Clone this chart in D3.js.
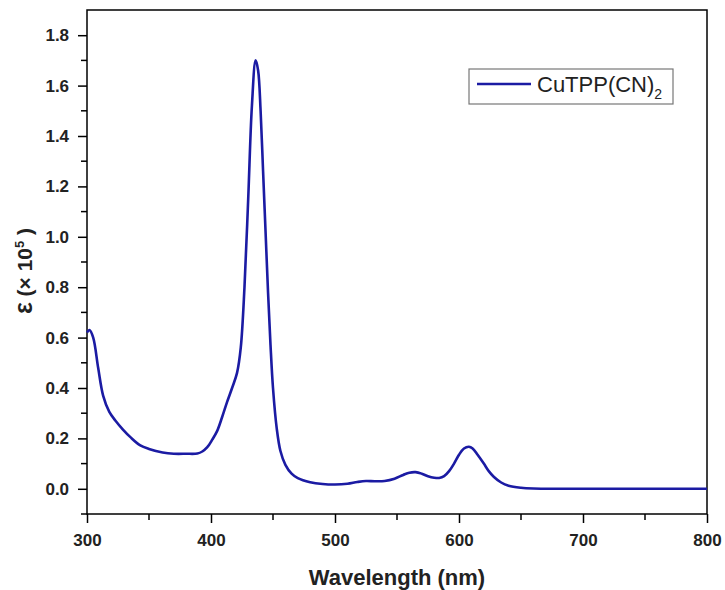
<!DOCTYPE html>
<html><head><meta charset="utf-8">
<script src="https://cdn.jsdelivr.net/npm/d3@7"></script>
<style>body{margin:0;background:#fff}svg{display:block}</style>
</head><body>
<svg id="c" width="725" height="590"></svg>
<script>
const wavelength = [300,302,305,309,313,318,323,329,335,343,350,361,370,380,389,393,397,401,405,409,413,417,421,424,427,430,433,436,438,440,442,444,446,448,450,453,456,460,465,470,480,490,500,510,518,525,532,540,548,555,560,565,570,575,580,584,588,592,596,600,604,608,611,615,620,624,628,634,640,650,660,680,700,750,800];
const epsilon = [0.62,0.63,0.60,0.48,0.37,0.305,0.27,0.235,0.205,0.172,0.158,0.144,0.139,0.139,0.14,0.148,0.165,0.195,0.23,0.285,0.345,0.40,0.46,0.56,0.80,1.15,1.52,1.70,1.66,1.50,1.26,1.02,0.78,0.57,0.40,0.24,0.15,0.095,0.06,0.042,0.026,0.019,0.017,0.02,0.027,0.031,0.03,0.031,0.04,0.055,0.064,0.066,0.06,0.05,0.044,0.043,0.05,0.07,0.10,0.135,0.16,0.167,0.16,0.135,0.10,0.07,0.048,0.025,0.012,0.004,0.001,0.0,0.0,0.0,0.0];
const xTicks = [300,400,500,600,700,800];
const yTicks = [0.0,0.2,0.4,0.6,0.8,1.0,1.2,1.4,1.6,1.8];
const seriesName = "CuTPP(CN)";

const svg = d3.select("#c");
const L=87,R=707,T=10,B=514;
const x = d3.scaleLinear().domain([300,800]).range([L,R]);
const y = d3.scaleLinear().domain([-0.1,1.9]).range([B,T]);
const color = "#1b1ba3";
const font = "'Liberation Sans', Arial, sans-serif";

// frame
svg.append("rect").attr("x",L).attr("y",T).attr("width",R-L).attr("height",B-T)
  .attr("fill","none").attr("stroke","#000").attr("stroke-width",1.5);

// x axis
const xMinor = d3.range(350,800,100);
const gx = svg.append("g").attr("transform",`translate(0,${B})`);
gx.call(d3.axisBottom(x).tickValues(xTicks).tickSize(9).tickFormat(d3.format("d")));
gx.selectAll(".minor").data(xMinor).enter().append("line").attr("class","minor")
  .attr("x1",d=>x(d)).attr("x2",d=>x(d)).attr("y1",0).attr("y2",6).attr("stroke","#000").attr("stroke-width",1.5);
gx.select(".domain").remove();
gx.selectAll(".tick line").attr("stroke-width",1.5);
gx.selectAll("text").attr("font-family",font).attr("font-weight","bold").attr("font-size",17).attr("fill","#222").attr("dy","1.2em");

// y axis
const yMinor = d3.range(-0.1,1.85,0.2);
const gy = svg.append("g").attr("transform",`translate(${L},0)`);
gy.call(d3.axisLeft(y).tickValues(yTicks).tickSize(9).tickFormat(d3.format(".1f")));
gy.selectAll(".minor").data(yMinor).enter().append("line").attr("class","minor")
  .attr("y1",d=>y(d)).attr("y2",d=>y(d)).attr("x1",0).attr("x2",-6).attr("stroke","#000").attr("stroke-width",1.5);
gy.select(".domain").remove();
gy.selectAll(".tick line").attr("stroke-width",1.5);
gy.selectAll("text").attr("font-family",font).attr("font-weight","bold").attr("font-size",17).attr("fill","#222").attr("dx","-0.35em");

// line
const line = d3.line().x((d,i)=>x(wavelength[i])).y(d=>y(d)).curve(d3.curveCatmullRom.alpha(0.5));
svg.append("path").datum(epsilon).attr("d",line).attr("fill","none")
  .attr("stroke",color).attr("stroke-width",2.6).attr("stroke-linejoin","round");

// titles
svg.append("text").attr("x",(L+R)/2).attr("y",585).attr("text-anchor","middle")
  .attr("font-family",font).attr("font-weight","bold").attr("font-size",22).attr("fill","#222")
  .text("Wavelength (nm)");
const yt = svg.append("text").attr("transform","translate(32,271) rotate(-90)").attr("text-anchor","middle")
  .attr("font-family",font).attr("font-weight","bold").attr("font-size",21).attr("fill","#222");
yt.append("tspan").attr("font-size",25).text("ε");
yt.append("tspan").text(" (× 10");
yt.append("tspan").attr("font-size",13).attr("dy",-8).text("5");
yt.append("tspan").attr("dy",8).text(" )");

// legend
const lg = svg.append("g");
lg.append("rect").attr("x",469).attr("y",69).attr("width",204).attr("height",35)
  .attr("fill","#fff").attr("stroke","#777").attr("stroke-width",1.2);
lg.append("line").attr("x1",477).attr("x2",531).attr("y1",84).attr("y2",84).attr("stroke",color).attr("stroke-width",2.6);
const lt = lg.append("text").attr("x",537).attr("y",92).attr("font-family",font).attr("font-size",22).attr("fill","#222");
lt.append("tspan").text(seriesName);
lt.append("tspan").attr("font-size",14).attr("dy",7).text("2");
</script>
</body></html>
